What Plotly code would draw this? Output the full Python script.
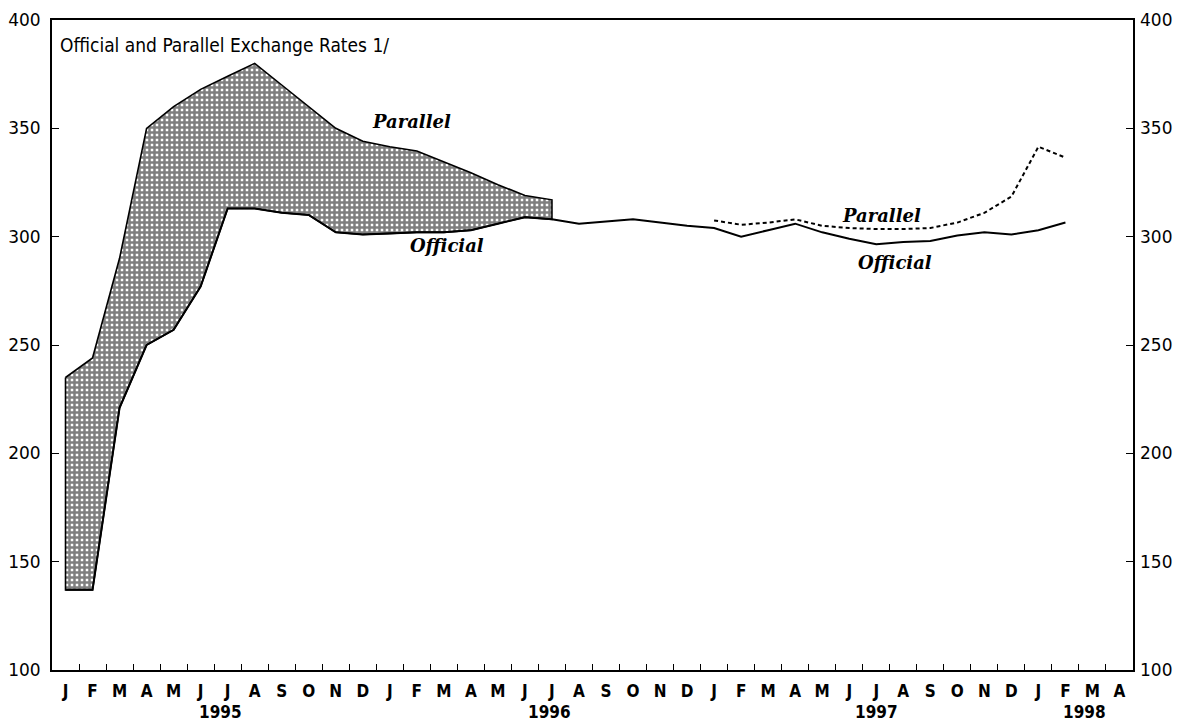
import plotly.graph_objects as go

# ---- data ----
month_labels = ["J", "F", "M", "A", "M", "J", "J", "A", "S", "O", "N", "D"] * 3 + ["J", "F", "M", "A"]
year_labels = ["1995", "1996", "1997", "1998"]

# Official rate, Jan 1995 .. Feb 1998
official = [137, 137, 221, 250, 257, 277, 313, 313, 311, 310, 302, 301,
            301.5, 302, 302, 303, 306, 309, 308, 306, 307, 308, 306.5, 305,
            304, 300, 303, 306, 302, 299, 296.5, 297.5, 298, 300.5, 302, 301,
            303, 306.5]
# Parallel rate, Jan 1995 .. Jul 1996 (shaded band)
parallel_a = [235, 244, 290, 350, 360, 368, 374, 380, 370, 360, 350, 344,
              341.5, 339.5, 334.5, 329.5, 324, 319, 317]
# Parallel rate, Jan 1997 .. Feb 1998 (dashed)
parallel_b = [307.5, 305.5, 306.5, 308, 305, 304, 303.5, 303.5, 304, 306.5, 311, 318.5,
              341.5, 336.5]
parallel_b_start = 24  # Jan 1997

n_months = len(month_labels)
x_mid = [i + 0.5 for i in range(n_months)]

fig = go.Figure()

# shaded band between parallel and official
na = len(parallel_a)
band_x = x_mid[:na] + x_mid[:na][::-1] + [x_mid[0]]
band_y = parallel_a + official[:na][::-1] + [parallel_a[0]]
fig.add_trace(go.Scatter(
    x=band_x, y=band_y, mode="lines", fill="toself",
    fillcolor="rgba(0,0,0,0)",
    fillpattern=dict(shape="+", fgcolor="black", bgcolor="white", size=5, solidity=0.75),
    line=dict(color="black", width=1.6), hoverinfo="skip", showlegend=False))

# official line
fig.add_trace(go.Scatter(
    x=x_mid[:len(official)], y=official, mode="lines",
    line=dict(color="black", width=2), showlegend=False))

# parallel dashed line
fig.add_trace(go.Scatter(
    x=x_mid[parallel_b_start:parallel_b_start + len(parallel_b)], y=parallel_b, mode="lines",
    line=dict(color="black", width=2, dash="4px,3px"), showlegend=False))

# invisible trace for right axis
fig.add_trace(go.Scatter(
    x=x_mid[:len(official)], y=official, mode="lines", yaxis="y2",
    line=dict(color="rgba(0,0,0,0)", width=0), hoverinfo="skip", showlegend=False))

tick_font = dict(family="DejaVu Sans", size=17, color="black")
month_font = dict(family="Liberation Sans Narrow, DejaVu Sans Condensed, Arial Narrow, Liberation Sans",
                  size=17, color="black", weight="bold")
label_font = dict(family="DejaVu Serif", size=18, color="black")

# page body has an 8px default margin: compensate so the plot frame lands where the reference has it
fig.update_layout(
    width=1179, height=717,
    margin=dict(l=44, r=54, t=12, b=55, autoexpand=False),
    plot_bgcolor="white", paper_bgcolor="white",
    xaxis=dict(
        range=[0, n_months], tickmode="array", tickvals=x_mid, ticktext=month_labels,
        ticks="", showgrid=False, zeroline=False, showline=True, linecolor="black",
        linewidth=2, mirror=True, tickfont=month_font, ticklabelstandoff=5, automargin=False,
        minor=dict(tickmode="array", tickvals=list(range(1, n_months)), ticks="inside",
                   ticklen=6, tickcolor="black", tickwidth=1.2, showgrid=False),
    ),
    yaxis=dict(
        range=[100, 400], tickmode="array", tickvals=[100, 150, 200, 250, 300, 350, 400],
        ticks="inside", ticklen=7, tickcolor="black", tickwidth=1.2, automargin=False,
        showgrid=False, zeroline=False, showline=True, linecolor="black", linewidth=2,
        mirror=True, tickfont=tick_font, ticklabelstandoff=6,
    ),
    yaxis2=dict(
        range=[100, 400], overlaying="y", side="right", automargin=False,
        tickmode="array", tickvals=[100, 150, 200, 250, 300, 350, 400],
        ticks="inside", ticklen=7, tickcolor="black", tickwidth=1.2,
        showgrid=False, zeroline=False, showline=False, tickfont=tick_font, ticklabelstandoff=6,
    ),
)

annotations = [
    dict(xref="paper", yref="paper", x=0.006, y=0.962, xanchor="left", yanchor="middle",
         text="Official and Parallel Exchange Rates 1/", showarrow=False,
         font=dict(family="Liberation Sans Narrow, DejaVu Sans Condensed, Liberation Sans",
                   size=19, color="black")),
    dict(x=13.3, y=353, text="<b><i>Parallel</i></b>", showarrow=False, font=label_font),
    dict(x=14.6, y=296, text="<b><i>Official</i></b>", showarrow=False, font=label_font),
    dict(x=30.7, y=310, text="<b><i>Parallel</i></b>", showarrow=False, font=label_font),
    dict(x=31.2, y=288, text="<b><i>Official</i></b>", showarrow=False, font=label_font),
]
year_pos = [6.25, 18.4, 30.5, 38.2]
for lab, xp in zip(year_labels, year_pos):
    annotations.append(dict(x=xp, y=-0.064, xref="x", yref="paper", text=lab, showarrow=False,
                            yanchor="middle", font=month_font))
fig.update_layout(annotations=annotations)

fig.write_html("out.html")
